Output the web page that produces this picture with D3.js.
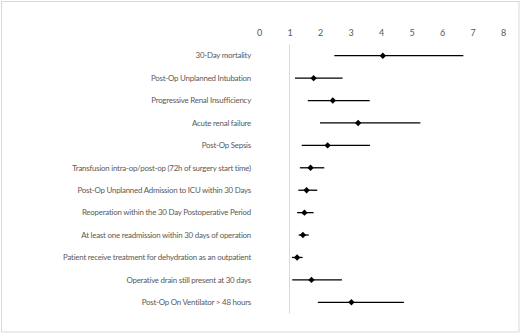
<!DOCTYPE html>
<html>
<head>
<meta charset="utf-8">
<script src="https://cdn.jsdelivr.net/npm/d3@7"></script>
<style>
  body { margin: 0; background: #fff; }
  text { font-family: Lato, "Open Sans", sans-serif; fill: #595959; }
</style>
</head>
<body>
<div id="chart"></div>
<script>
// outcomes, top to bottom
var outcomes = [
    "30-Day mortality",
    "Post-Op Unplanned Intubation",
    "Progressive Renal Insufficiency",
    "Acute renal failure",
    "Post-Op Sepsis",
    "Transfusion intra-op/post-op (72h of surgery start time)",
    "Post-Op Unplanned Admission to ICU within 30 Days",
    "Reoperation within the 30 Day Postoperative Period",
    "At least one readmission within 30 days of operation",
    "Patient receive treatment for dehydration as an outpatient",
    "Operative drain still present at 30 days",
    "Post-Op On Ventilator > 48 hours"
];
// odds ratio and 95% CI
var estimate = [4.06, 1.79, 2.42, 3.25, 2.25, 1.69, 1.56, 1.49, 1.44, 1.25, 1.72, 3.03];
var lower    = [2.47, 1.18, 1.60, 2.00, 1.40, 1.34, 1.29, 1.25, 1.30, 1.08, 1.09, 1.93];
var upper    = [6.70, 2.74, 3.63, 5.29, 3.64, 2.14, 1.91, 1.79, 1.63, 1.43, 2.72, 4.75];
var xTicks = [0, 1, 2, 3, 4, 5, 6, 7, 8];

var width = 521, height = 334;

var svg = d3.select("#chart").append("svg")
    .attr("width", width)
    .attr("height", height);

// chart border
svg.append("rect")
    .attr("x", 1.5).attr("y", 1.5)
    .attr("width", width - 3.5).attr("height", height - 3.5)
    .attr("fill", "#fff")
    .attr("stroke", "#d9d9d9");

var x = d3.scaleLinear().domain([0, 8]).range([259, 503]);
var y = d3.scaleBand().domain(outcomes).range([44.5, 313.5]);

// axis labels along the top
var xAxis = svg.append("g")
    .attr("transform", "translate(0,36)")
    .call(d3.axisTop(x).tickValues(xTicks).tickSize(0).tickPadding(0));
xAxis.select(".domain").remove();
xAxis.selectAll("text").attr("font-size", 9).attr("fill", "#595959");

// reference line at 1
svg.append("line")
    .attr("x1", x(1)).attr("x2", x(1))
    .attr("y1", y.range()[0]).attr("y2", y.range()[1])
    .attr("stroke", "#d9d9d9")
    .attr("stroke-width", 1);

// row labels
svg.append("g").selectAll("text")
    .data(outcomes)
    .enter().append("text")
    .attr("x", 251)
    .attr("y", function (d) { return y(d) + y.bandwidth() / 2; })
    .attr("dy", "0.35em")
    .attr("text-anchor", "end")
    .attr("font-size", 7.9)
    .attr("letter-spacing", -0.22)
    .text(function (d) { return d; });

var rows = outcomes.map(function (d, i) {
    return { name: d, est: estimate[i], lo: lower[i], hi: upper[i] };
});

// CI whiskers
svg.append("g").selectAll("line")
    .data(rows)
    .enter().append("line")
    .attr("x1", function (d) { return x(d.lo); })
    .attr("x2", function (d) { return x(d.hi); })
    .attr("y1", function (d) { return y(d.name) + y.bandwidth() / 2; })
    .attr("y2", function (d) { return y(d.name) + y.bandwidth() / 2; })
    .attr("stroke", "#000")
    .attr("stroke-width", 1.3);

// point estimates as diamonds
var diamond = d3.symbol().type(d3.symbolDiamond2).size(26);
svg.append("g").selectAll("path")
    .data(rows)
    .enter().append("path")
    .attr("d", diamond)
    .attr("transform", function (d) {
        return "translate(" + x(d.est) + "," + (y(d.name) + y.bandwidth() / 2) + ")";
    })
    .attr("fill", "#000");
</script>
</body>
</html>
